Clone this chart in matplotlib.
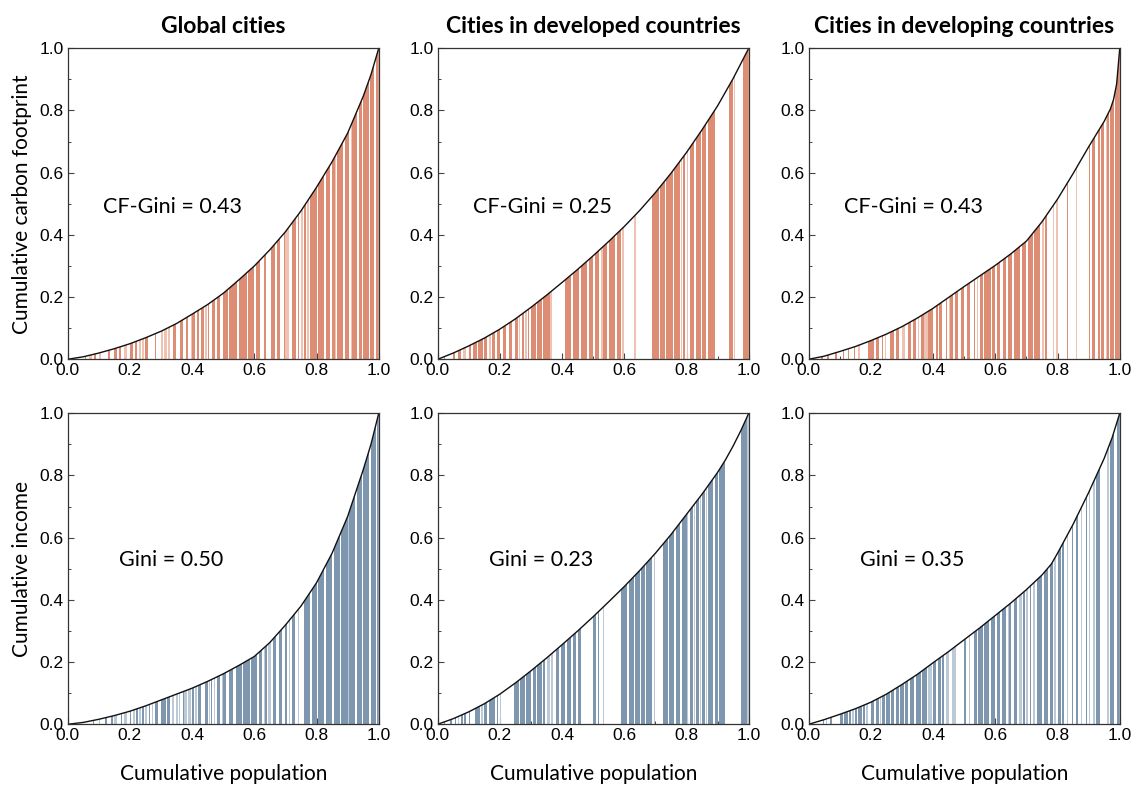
import matplotlib
matplotlib.use("Agg")
import matplotlib.pyplot as plt
from matplotlib.patches import Polygon
from matplotlib.ticker import MultipleLocator

# ---- Lorenz curves: cumulative population vs cumulative share ----
cf_global_x = [0, 0.05, 0.1, 0.15, 0.2, 0.25, 0.3, 0.35, 0.4, 0.45, 0.5, 0.55, 0.6, 0.65, 0.7,
               0.75, 0.8, 0.85, 0.9, 0.95, 0.975, 1]
cf_global_y = [0, 0.008, 0.02, 0.034, 0.05, 0.069, 0.09, 0.115, 0.145, 0.176, 0.212, 0.255, 0.3, 0.352,
               0.41, 0.477, 0.553, 0.635, 0.727, 0.845, 0.915, 1]

cf_dev_x = [0, 0.05, 0.1, 0.15, 0.2, 0.25, 0.3, 0.35, 0.4, 0.45, 0.5, 0.55, 0.6, 0.65, 0.7,
            0.75, 0.8, 0.85, 0.9, 0.95, 1]
cf_dev_y = [0, 0.02, 0.043, 0.068, 0.097, 0.13, 0.167, 0.206, 0.247, 0.289, 0.333, 0.379, 0.427, 0.479,
            0.536, 0.598, 0.665, 0.738, 0.815, 0.903, 1]

cf_dvg_x = [0, 0.05, 0.1, 0.15, 0.2, 0.25, 0.3, 0.35, 0.4, 0.45, 0.5, 0.55, 0.6, 0.65, 0.7,
            0.75, 0.8, 0.85, 0.9, 0.95, 0.97, 0.98, 0.99, 1]
cf_dvg_y = [0, 0.01, 0.025, 0.041, 0.06, 0.081, 0.105, 0.133, 0.164, 0.199, 0.234, 0.268, 0.302, 0.339,
            0.38, 0.442, 0.515, 0.597, 0.683, 0.765, 0.805, 0.835, 0.885, 1]

inc_global_x = [0, 0.05, 0.1, 0.15, 0.2, 0.25, 0.3, 0.35, 0.4, 0.45, 0.5, 0.55, 0.6, 0.65, 0.7,
                0.75, 0.8, 0.85, 0.9, 0.95, 0.975, 1]
inc_global_y = [0, 0.006, 0.016, 0.028, 0.042, 0.059, 0.078, 0.097, 0.116, 0.138, 0.162, 0.189, 0.218, 0.263,
                0.319, 0.38, 0.455, 0.55, 0.668, 0.818, 0.9, 1]

inc_dev_x = [0, 0.05, 0.1, 0.15, 0.2, 0.25, 0.3, 0.35, 0.4, 0.45, 0.5, 0.55, 0.6, 0.65, 0.7,
             0.75, 0.8, 0.85, 0.9, 0.925, 0.95, 0.975, 1]
inc_dev_y = [0, 0.018, 0.04, 0.066, 0.097, 0.133, 0.172, 0.213, 0.256, 0.3, 0.346, 0.394, 0.443, 0.495,
             0.55, 0.61, 0.675, 0.74, 0.81, 0.85, 0.895, 0.945, 1]

inc_dvg_x = [0, 0.05, 0.1, 0.15, 0.2, 0.25, 0.3, 0.35, 0.4, 0.45, 0.5, 0.55, 0.6, 0.65, 0.7,
             0.75, 0.78, 0.8, 0.85, 0.9, 0.95, 0.975, 1]
inc_dvg_y = [0, 0.015, 0.032, 0.05, 0.071, 0.097, 0.128, 0.161, 0.198, 0.234, 0.272, 0.31, 0.35, 0.39,
             0.433, 0.48, 0.515, 0.55, 0.643, 0.745, 0.855, 0.92, 1]

# ---- city stripes (cumulative-population intervals), dark and light shades ----
cf_global_dark = [(0.055, 0.06), (0.085, 0.092), (0.13, 0.135), (0.15, 0.158), (0.165, 0.172), (0.2, 0.21),
                  (0.215, 0.222), (0.25, 0.258), (0.28, 0.284), (0.34, 0.347), (0.36, 0.372), (0.38, 0.386),
                  (0.4, 0.41), (0.415, 0.422), (0.43, 0.438), (0.45, 0.455), (0.465, 0.472), (0.48, 0.49),
                  (0.5, 0.515), (0.52, 0.545), (0.55, 0.575), (0.58, 0.6), (0.605, 0.618), (0.63, 0.637),
                  (0.655, 0.668), (0.672, 0.682), (0.695, 0.7), (0.72, 0.735), (0.74, 0.745), (0.76, 0.765),
                  (0.78, 0.8), (0.805, 0.825), (0.83, 0.842), (0.85, 0.858), (0.865, 0.885), (0.89, 0.905),
                  (0.915, 0.93), (0.935, 0.945), (0.95, 0.968), (0.972, 0.985), (0.99, 1.0)]
cf_global_light = [(0.07, 0.078), (0.1, 0.106), (0.182, 0.19), (0.23, 0.236), (0.24, 0.245), (0.3, 0.306),
                   (0.31, 0.318), (0.322, 0.33), (0.395, 0.4), (0.443, 0.448), (0.7, 0.71), (0.75, 0.755),
                   (0.77, 0.775), (0.86, 0.864), (0.91, 0.913)]

cf_dev_dark = [(0.02, 0.025), (0.05, 0.055), (0.065, 0.075), (0.1, 0.108), (0.115, 0.125), (0.13, 0.145),
               (0.15, 0.16), (0.175, 0.185), (0.19, 0.2), (0.21, 0.22), (0.23, 0.24), (0.25, 0.258),
               (0.27, 0.276), (0.29, 0.295), (0.3, 0.315), (0.32, 0.335), (0.34, 0.36), (0.41, 0.43),
               (0.435, 0.455), (0.46, 0.48), (0.485, 0.5), (0.505, 0.52), (0.53, 0.545), (0.55, 0.57),
               (0.575, 0.59), (0.69, 0.71), (0.715, 0.73), (0.735, 0.755), (0.76, 0.78), (0.79, 0.795),
               (0.81, 0.825), (0.83, 0.845), (0.85, 0.862), (0.868, 0.89), (0.935, 0.948), (0.98, 1.0)]
cf_dev_light = [(0.08, 0.09), (0.165, 0.17), (0.262, 0.266), (0.282, 0.286), (0.362, 0.366), (0.525, 0.53),
                (0.592, 0.6), (0.632, 0.638), (0.783, 0.787), (0.8, 0.805), (0.952, 0.956)]

cf_dvg_dark = [(0.04, 0.045), (0.06, 0.065), (0.085, 0.09), (0.11, 0.115), (0.125, 0.13), (0.145, 0.15),
               (0.19, 0.21), (0.215, 0.225), (0.235, 0.24), (0.26, 0.275), (0.28, 0.29), (0.32, 0.33),
               (0.335, 0.345), (0.36, 0.37), (0.385, 0.4), (0.41, 0.415), (0.42, 0.43), (0.44, 0.445),
               (0.455, 0.465), (0.47, 0.48), (0.49, 0.5), (0.51, 0.52), (0.53, 0.535), (0.55, 0.56),
               (0.565, 0.585), (0.59, 0.6), (0.605, 0.615), (0.625, 0.635), (0.64, 0.655), (0.66, 0.68),
               (0.685, 0.7), (0.705, 0.72), (0.725, 0.745), (0.76, 0.765), (0.83, 0.833), (0.9, 0.905),
               (0.91, 0.92), (0.93, 0.935), (0.94, 0.95), (0.96, 0.965), (0.97, 0.98), (0.985, 1.0)]
cf_dvg_light = [(0.16, 0.165), (0.245, 0.25), (0.3, 0.31), (0.35, 0.355), (0.372, 0.382), (0.45, 0.453),
                (0.54, 0.545), (0.75, 0.755), (0.785, 0.79), (0.795, 0.8), (0.86, 0.864), (0.955, 0.958)]

inc_global_dark = [(0.08, 0.085), (0.12, 0.125), (0.14, 0.145), (0.17, 0.175), (0.2, 0.205), (0.22, 0.225),
                   (0.24, 0.245), (0.26, 0.265), (0.28, 0.29), (0.3, 0.315), (0.32, 0.33), (0.37, 0.373),
                   (0.4, 0.405), (0.42, 0.43), (0.44, 0.45), (0.46, 0.465), (0.48, 0.49), (0.5, 0.51),
                   (0.52, 0.53), (0.54, 0.56), (0.565, 0.585), (0.59, 0.61), (0.615, 0.625), (0.635, 0.64),
                   (0.66, 0.67), (0.68, 0.69), (0.7, 0.705), (0.72, 0.73), (0.76, 0.78), (0.785, 0.8),
                   (0.805, 0.825), (0.83, 0.85), (0.855, 0.875), (0.88, 0.9), (0.905, 0.925), (0.93, 0.945),
                   (0.95, 0.97), (0.975, 0.99), (0.993, 1.0)]
inc_global_light = [(0.1, 0.105), (0.15, 0.16), (0.18, 0.19), (0.21, 0.215), (0.23, 0.235), (0.25, 0.255),
                    (0.27, 0.275), (0.335, 0.342), (0.347, 0.353), (0.357, 0.36), (0.375, 0.382),
                    (0.387, 0.395), (0.41, 0.415), (0.455, 0.458), (0.47, 0.475), (0.495, 0.5), (0.63, 0.633),
                    (0.645, 0.655), (0.71, 0.715), (0.74, 0.745), (0.9, 0.903)]

inc_dev_dark = [(0.02, 0.025), (0.04, 0.045), (0.055, 0.06), (0.075, 0.08), (0.085, 0.09), (0.1, 0.105),
                (0.12, 0.135), (0.15, 0.16), (0.165, 0.185), (0.19, 0.195), (0.245, 0.26), (0.265, 0.28),
                (0.285, 0.3), (0.305, 0.315), (0.32, 0.335), (0.34, 0.345), (0.38, 0.39), (0.395, 0.41),
                (0.415, 0.43), (0.435, 0.445), (0.45, 0.46), (0.5, 0.51), (0.515, 0.52), (0.59, 0.61),
                (0.615, 0.63), (0.635, 0.65), (0.655, 0.665), (0.67, 0.69), (0.725, 0.74), (0.745, 0.76),
                (0.765, 0.78), (0.785, 0.8), (0.81, 0.82), (0.83, 0.84), (0.85, 0.86), (0.87, 0.885),
                (0.89, 0.9), (0.905, 0.925), (0.975, 0.995)]
inc_dev_light = [(0.065, 0.07), (0.14, 0.145), (0.2, 0.205), (0.35, 0.36), (0.365, 0.37), (0.53, 0.535),
                 (0.695, 0.7), (0.8, 0.805), (0.825, 0.828), (0.842, 0.848), (0.862, 0.866), (0.995, 1.0)]

inc_dvg_dark = [(0.045, 0.05), (0.07, 0.075), (0.1, 0.11), (0.115, 0.125), (0.13, 0.135), (0.15, 0.155),
                (0.16, 0.17), (0.175, 0.18), (0.2, 0.21), (0.215, 0.225), (0.235, 0.245), (0.25, 0.26),
                (0.265, 0.275), (0.28, 0.29), (0.295, 0.305), (0.31, 0.32), (0.325, 0.34), (0.345, 0.36),
                (0.365, 0.38), (0.4, 0.41), (0.415, 0.425), (0.43, 0.435), (0.5, 0.505), (0.53, 0.54),
                (0.545, 0.56), (0.565, 0.58), (0.585, 0.6), (0.605, 0.615), (0.62, 0.635), (0.645, 0.65),
                (0.66, 0.67), (0.69, 0.695), (0.71, 0.715), (0.735, 0.75), (0.755, 0.77), (0.775, 0.785),
                (0.8, 0.81), (0.815, 0.82), (0.845, 0.85), (0.86, 0.865), (0.89, 0.895), (0.925, 0.935),
                (0.97, 0.98), (0.99, 1.0)]
inc_dvg_light = [(0.055, 0.06), (0.14, 0.145), (0.185, 0.19), (0.23, 0.233), (0.385, 0.395), (0.44, 0.45),
                 (0.46, 0.475), (0.515, 0.52), (0.64, 0.643), (0.675, 0.685), (0.7, 0.705), (0.72, 0.728),
                 (0.79, 0.795), (0.83, 0.835), (0.875, 0.88), (0.9, 0.905), (0.915, 0.92), (0.96, 0.965)]

titles = ["Global cities", "Cities in developed countries", "Cities in developing countries"]
cf_gini = ["0.43", "0.25", "0.43"]
inc_gini = ["0.50", "0.23", "0.35"]
tick_values = [0.0, 0.2, 0.4, 0.6, 0.8, 1.0]

ORANGE_DARK, ORANGE_LIGHT = "#dc8d74", "#efc3b3"
BLUE_DARK, BLUE_LIGHT = "#7f97ae", "#bccad8"

LABEL_FONT = ["Lato", "DejaVu Sans"]
TICK_FONT = ["Liberation Sans", "DejaVu Sans"]

panels = [
    (cf_global_x, cf_global_y, cf_global_dark, cf_global_light, ORANGE_DARK, ORANGE_LIGHT),
    (cf_dev_x, cf_dev_y, cf_dev_dark, cf_dev_light, ORANGE_DARK, ORANGE_LIGHT),
    (cf_dvg_x, cf_dvg_y, cf_dvg_dark, cf_dvg_light, ORANGE_DARK, ORANGE_LIGHT),
    (inc_global_x, inc_global_y, inc_global_dark, inc_global_light, BLUE_DARK, BLUE_LIGHT),
    (inc_dev_x, inc_dev_y, inc_dev_dark, inc_dev_light, BLUE_DARK, BLUE_LIGHT),
    (inc_dvg_x, inc_dvg_y, inc_dvg_dark, inc_dvg_light, BLUE_DARK, BLUE_LIGHT),
]

fig = plt.figure(figsize=(11.36, 7.87), dpi=100)
lefts = [0.0596, 0.3853, 0.7119]
bottoms = [0.5435, 0.0797]
w, h = 0.2738, 0.3952


def draw_stripes(ax, intervals, color, clip):
    starts = [a for a, b in intervals]
    widths = [b - a for a, b in intervals]
    bars = ax.bar(starts, [1.0] * len(starts), width=widths, align="edge",
                  color=color, linewidth=0, zorder=2)
    for b in bars:
        b.set_clip_path(clip)


for i, (cx, cy, dark, light, cdark, clight) in enumerate(panels):
    row, col = divmod(i, 3)
    ax = fig.add_axes([lefts[col], bottoms[row], w, h])
    ax.set_xlim(0, 1)
    ax.set_ylim(0, 1)

    # area under the Lorenz curve used to trim the stripes
    verts = list(zip(cx, cy)) + [(1, 0), (0, 0)]
    clip = Polygon(verts, closed=True, transform=ax.transData, facecolor="none", edgecolor="none")
    ax.add_patch(clip)

    draw_stripes(ax, light, clight, clip)
    draw_stripes(ax, dark, cdark, clip)
    ax.plot(cx, cy, color="#111111", lw=1.0, zorder=4, solid_joinstyle="round")

    ax.set_xticks(tick_values)
    ax.set_yticks(tick_values)
    ax.set_xticklabels([f"{t:.1f}" for t in tick_values], family=TICK_FONT, fontsize=12.5)
    ax.set_yticklabels([f"{t:.1f}" for t in tick_values], family=TICK_FONT, fontsize=12.5)
    ax.xaxis.set_minor_locator(MultipleLocator(0.1))
    ax.yaxis.set_minor_locator(MultipleLocator(0.1))
    ax.tick_params(which="major", direction="in", length=4, width=0.8, color="#444444", pad=3)
    ax.tick_params(which="minor", direction="in", length=2.5, width=0.7, color="#444444")
    for s in ax.spines.values():
        s.set_linewidth(0.9)
        s.set_color("#333333")
        s.set_zorder(5)

    if row == 0:
        ax.set_title(titles[col], family=LABEL_FONT, fontweight="bold", fontsize=16.5, pad=11)
        ax.text(0.113, 0.49, f"CF-Gini = {cf_gini[col]}", family=LABEL_FONT, fontsize=15.5,
                va="center", ha="left", zorder=6)
        if col == 0:
            ax.set_ylabel("Cumulative carbon footprint", family=LABEL_FONT, fontsize=15, labelpad=5)
    else:
        ax.text(0.165, 0.528, f"Gini = {inc_gini[col]}", family=LABEL_FONT, fontsize=15.5,
                va="center", ha="left", zorder=6)
        ax.set_xlabel("Cumulative population", family=LABEL_FONT, fontsize=15, labelpad=15)
        if col == 0:
            ax.set_ylabel("Cumulative income", family=LABEL_FONT, fontsize=15, labelpad=5)

fig.savefig("out.png", dpi=100)
